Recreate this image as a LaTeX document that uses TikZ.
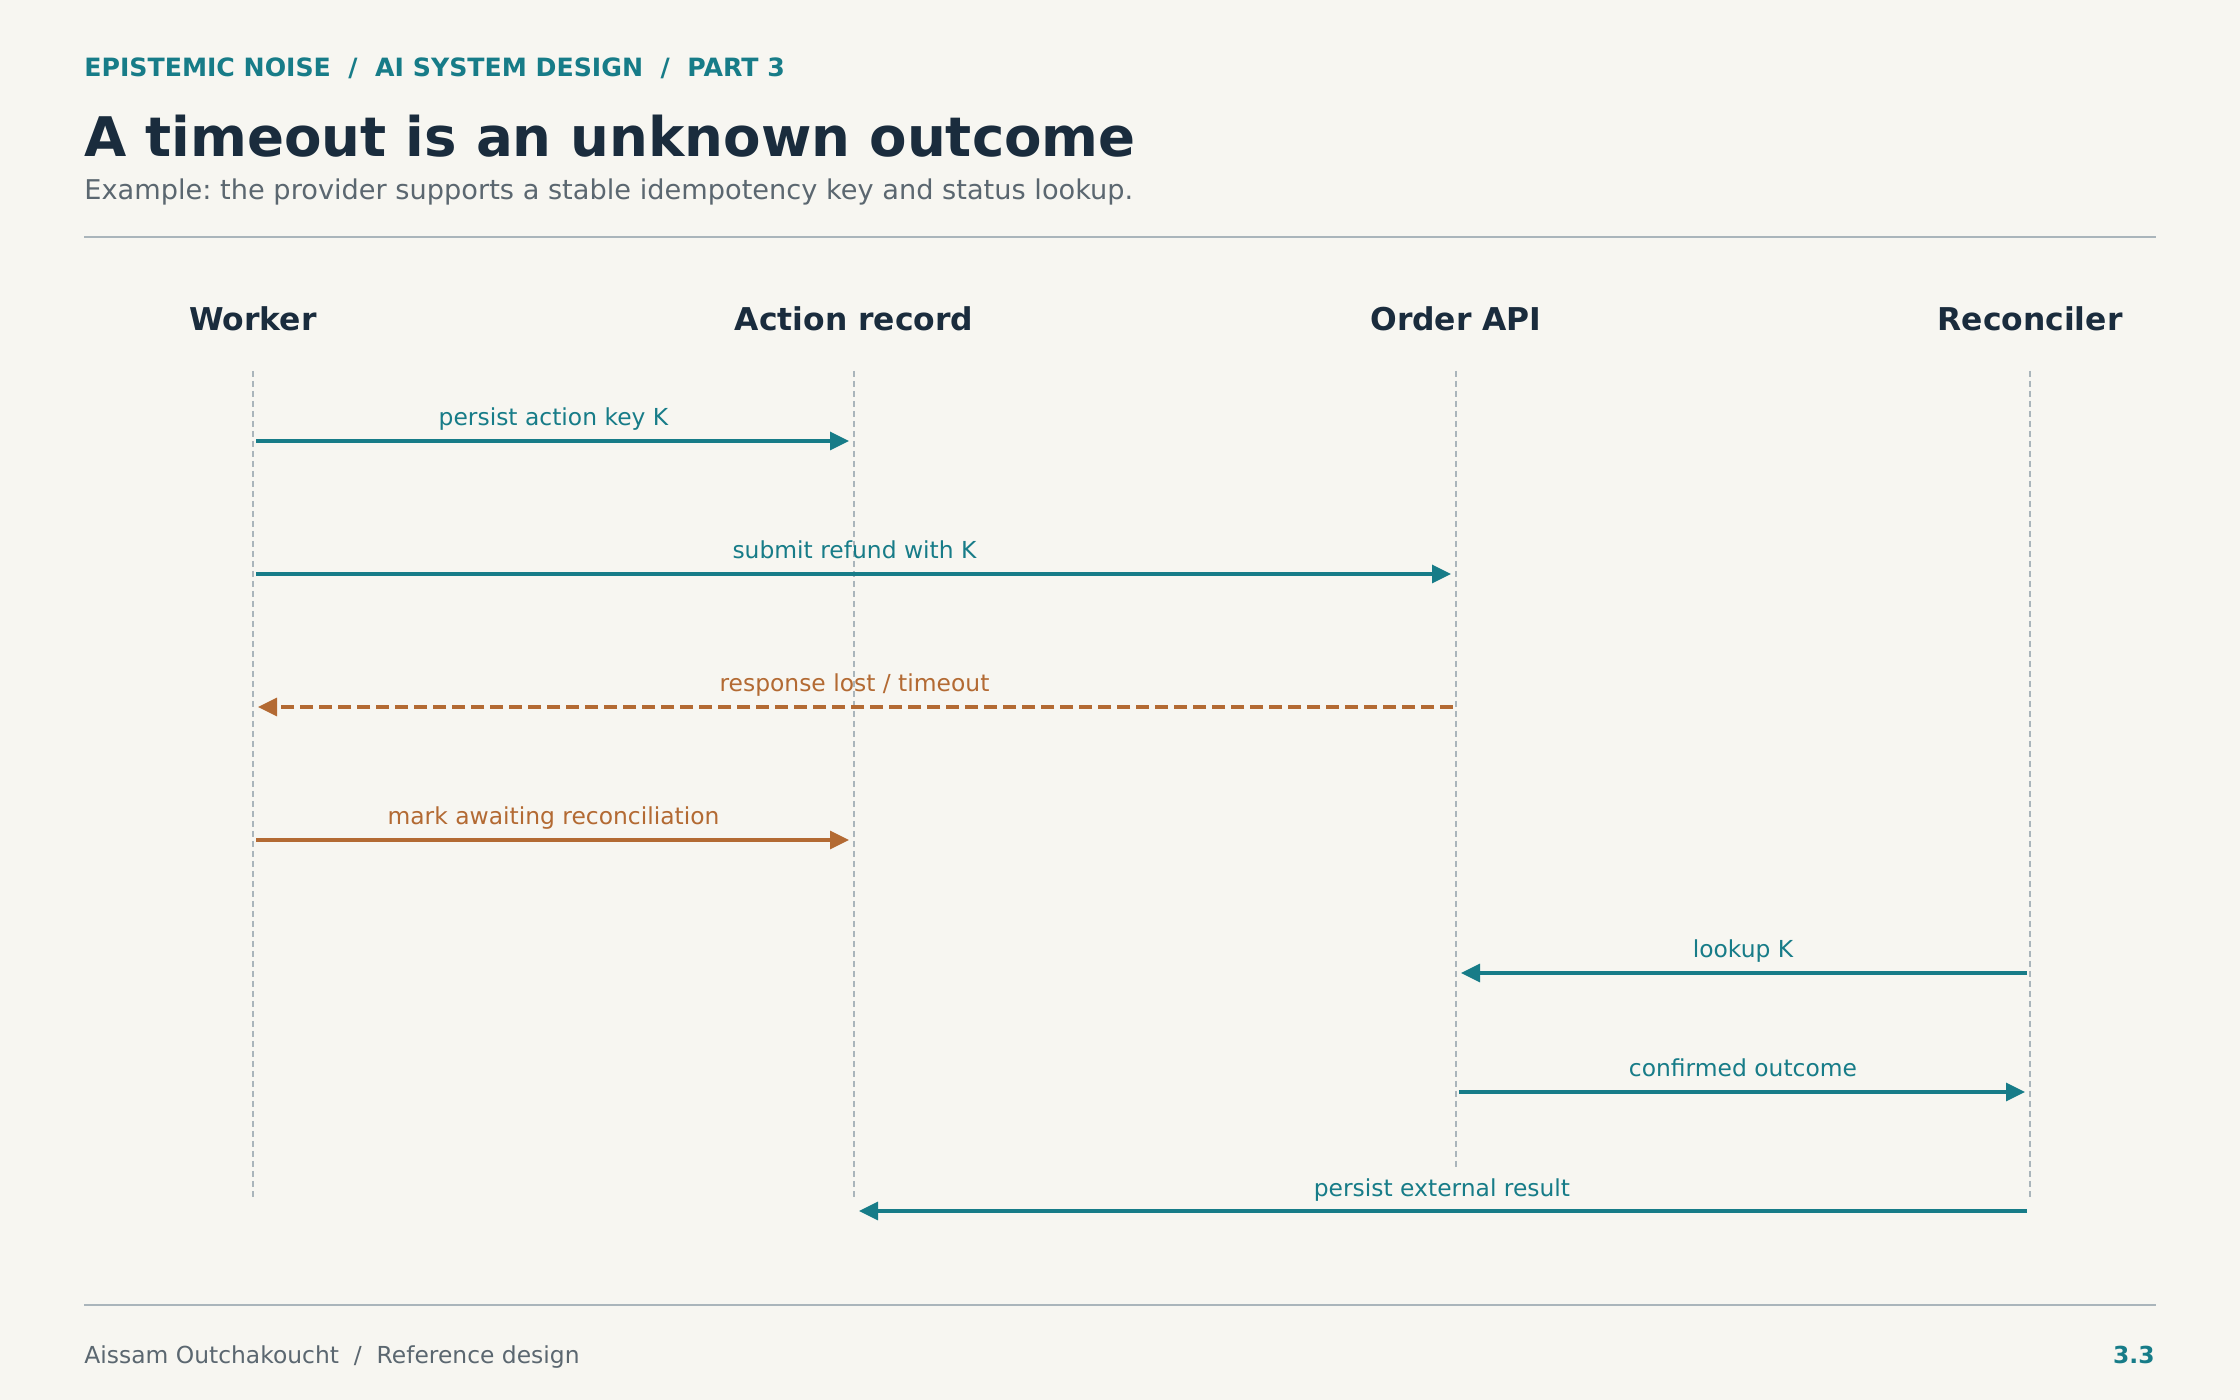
\documentclass[tikz,border=0pt]{standalone}
\usepackage{fontspec}
\setmainfont{DejaVu Sans}
\usepackage{tikz}
\usetikzlibrary{arrows.meta, calc}
\frenchspacing
\definecolor{papier}{HTML}{F7F6F1}
\definecolor{petrol}{HTML}{177C88}
\definecolor{roest}{HTML}{B36A33}
\definecolor{inkt}{HTML}{1A2C3D}
\definecolor{leisteen}{HTML}{5B6770}
\definecolor{regel}{HTML}{AAB5BB}
\tikzset{>={Triangle[length=9.5pt,width=9pt]}}
\tikzset{actor/.style={anchor=base, font=\fontsize{15.7}{19}\selectfont\bfseries, text=inkt, inner sep=0pt},
	lifeline/.style={regel, line width=0.75pt, dash pattern=on 3pt off 2pt},
	msg/.style={line width=1.7pt, shorten <=1.5pt, shorten >=2.5pt, ->},
	lost/.style={msg, dash pattern=on 6.5pt off 3pt},
	lbl/.style={anchor=base, yshift=7.5pt, inner sep=0pt, font=\fontsize{11.7}{14}\selectfont}}

\begin{document}
\begin{tikzpicture}[x=0.5pt, y=-0.5pt]

	\fill [papier] (0,0) rectangle (2240,1400);
	\useasboundingbox (0,0) rectangle (2240,1400);

	\node [anchor=base west, inner sep=0pt, text=petrol, font=\fontsize{12.6}{15}\selectfont\bfseries] (kicker) at (84,77) {EPISTEMIC NOISE~~/~~AI SYSTEM DESIGN~~/~~PART 3};
	\node [anchor=base west, inner sep=0pt, text=inkt, font=\fontsize{27.3}{32}\selectfont\bfseries] (title) at (84,157) {A timeout is an unknown outcome};
	\node [anchor=base west, inner sep=0pt, text=leisteen, font=\fontsize{13.6}{16}\selectfont] (sub) at (84,200) {Example: the provider supports a stable idempotency key and status lookup.};
	\draw [regel, line width=1pt] (84,237.5) -- (2156,237.5);

	\node [actor] (worker) at (253,331) {Worker};
	\node [actor] (record) at (854,331) {Action record};
	\node [actor] (api) at (1456,331) {Order API};
	\node [actor] (recon) at (2030,331) {Reconciler};

	\coordinate (wk) at (253,371);
	\coordinate (ar) at (854,371);
	\coordinate (oa) at (1456,371);
	\coordinate (rc) at (2030,371);
	\draw [lifeline] (wk) -- (wk |- 0,1197);
	\draw [lifeline] (ar) -- (ar |- 0,1197);
	\draw [lifeline] (oa) -- (oa |- 0,1170);
	\draw [lifeline] (rc) -- (rc |- 0,1197);

	\draw [msg, petrol] (wk |- 0,441) -- node[lbl, text=petrol] {persist action key K} (ar |- 0,441);
	\draw [msg, petrol] (wk |- 0,574) -- node[lbl, text=petrol] {submit refund with K} (oa |- 0,574);
	\draw [lost, roest] (oa |- 0,707) -- node[lbl, text=roest] {response lost / timeout} (wk |- 0,707);
	\draw [msg, roest] (wk |- 0,840) -- node[lbl, text=roest] {mark awaiting reconciliation} (ar |- 0,840);
	\draw [msg, petrol] (rc |- 0,973) -- node[lbl, text=petrol] {lookup K} (oa |- 0,973);
	\draw [msg, petrol] (oa |- 0,1092) -- node[lbl, text=petrol] {confirmed outcome} (rc |- 0,1092);
	\draw [msg, petrol] (rc |- 0,1211) -- node[lbl, text=petrol] {persist external result} (ar |- 0,1211);

	\draw [regel, line width=1pt] (84,1305) -- (2156,1305);
	\node [anchor=base west, inner sep=0pt, text=leisteen, font=\fontsize{11.7}{14}\selectfont] (credit) at (84,1363) {Aissam Outchakoucht~~/~~Reference design};
	\node [anchor=base east, inner sep=0pt, text=petrol, font=\fontsize{11.7}{14}\selectfont\bfseries] (page) at (2155,1363) {3.3};

\end{tikzpicture}
\end{document}
